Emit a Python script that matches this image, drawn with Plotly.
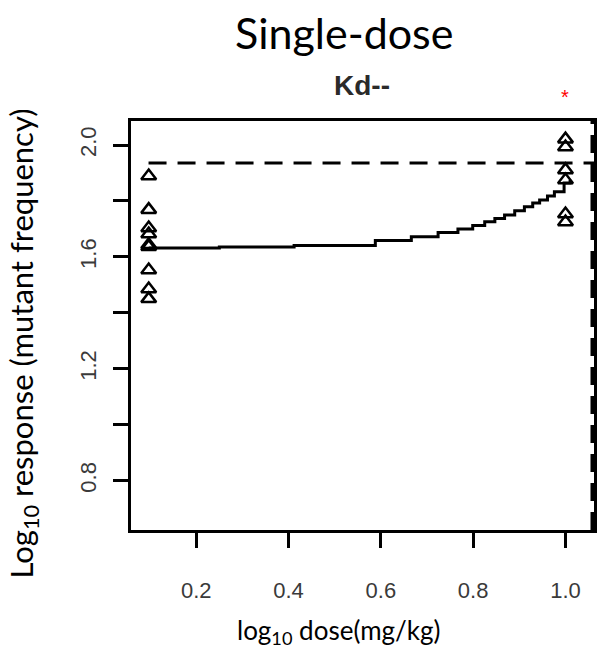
import plotly.graph_objects as go

# ---- data ----
low_dose = 0.097
high_dose = 1.0
low_resp = [1.889, 1.769, 1.703, 1.682, 1.643, 1.636, 1.553, 1.485, 1.450]
high_resp = [2.021, 1.993, 1.911, 1.875, 1.753, 1.725]

curve_x = [0.097, 0.25, 0.412, 0.588, 0.666, 0.724, 0.767, 0.799, 0.825, 0.847,
           0.868, 0.890, 0.911, 0.929, 0.944, 0.961, 0.976, 0.997, 1.010]
curve_y = [1.632, 1.635, 1.641, 1.659, 1.672, 1.687, 1.700, 1.712, 1.726, 1.737,
           1.750, 1.765, 1.779, 1.793, 1.803, 1.818, 1.833, 1.864, 1.875]

upper_asym = 1.936
kd_dose = 1.058

x_ticks = [0.2, 0.4, 0.6, 0.8, 1.0]
x_ticktext = ["0.2", "0.4", "0.6", "0.8", "1.0"]
y_ticks = [0.8, 1.0, 1.2, 1.4, 1.6, 1.8, 2.0]
y_ticktext = ["0.8", "", "1.2", "", "1.6", "", "2.0"]

x_range = [0.0586, 1.0618]
y_range = [0.6238, 2.0858]

fig = go.Figure()

fig.add_trace(go.Scatter(
    x=[x_range[0] + 0.038, x_range[1]], y=[upper_asym, upper_asym], mode="lines",
    line=dict(color="black", width=3, dash="18px,11px"), hoverinfo="skip"))
fig.add_trace(go.Scatter(
    x=[kd_dose, kd_dose], y=y_range, mode="lines",
    line=dict(color="black", width=3.5, dash="18px,11px"), hoverinfo="skip"))
fig.add_trace(go.Scatter(
    x=curve_x, y=curve_y, mode="lines",
    line=dict(color="black", width=3, shape="hv"), hoverinfo="skip"))
fig.add_trace(go.Scatter(
    x=[low_dose] * len(low_resp) + [high_dose] * len(high_resp),
    y=low_resp + high_resp, mode="markers",
    marker=dict(symbol="triangle-up-open", size=13, color="black",
                line=dict(color="black", width=2.5))))

fig.update_layout(
    width=600, height=649,
    margin=dict(l=131, r=3, t=121, b=119),
    paper_bgcolor="white", plot_bgcolor="white",
    showlegend=False,
    xaxis=dict(range=x_range, tickvals=x_ticks, ticktext=x_ticktext,
               ticks="outside", ticklen=15, tickwidth=3, tickcolor="black",
               showline=True, linewidth=3, linecolor="black", mirror=True,
               showgrid=False, zeroline=False, ticklabelstandoff=24,
               tickfont=dict(family="Liberation Sans", size=22, color="#3a3a3a")),
    yaxis=dict(range=y_range, tickvals=y_ticks, ticktext=y_ticktext,
               ticks="outside", ticklen=15, tickwidth=3, tickcolor="black",
               showline=True, linewidth=3, linecolor="black", mirror=True,
               showgrid=False, zeroline=False, tickangle=-90, ticklabelstandoff=8,
               tickfont=dict(family="Liberation Sans", size=22, color="#3a3a3a")),
    annotations=[
        dict(text="Single-dose", xref="paper", yref="paper", x=0.459, y=1.2176,
             xanchor="center", yanchor="middle", showarrow=False,
             font=dict(family="Lato", size=43, color="black")),
        dict(text="<b>Kd--</b>", xref="paper", yref="paper", x=0.498, y=1.088,
             xanchor="center", yanchor="middle", showarrow=False,
             font=dict(family="Liberation Sans", size=28, color="#2a2a2a")),
        dict(text="*", xref="x", yref="paper", x=high_dose, y=1.0587,
             xanchor="center", yanchor="middle", showarrow=False,
             font=dict(family="Liberation Sans", size=20, color="red")),
        dict(text="Log<sub>10</sub> response (mutant frequency)", xref="paper", yref="paper",
             x=-0.232, y=0.455, xanchor="center", yanchor="middle", textangle=-90,
             showarrow=False, font=dict(family="Lato", size=31, color="black")),
        dict(text="log<sub>10</sub> dose(mg/kg)", xref="paper", yref="paper",
             x=0.4485, y=-0.249, xanchor="center", yanchor="middle",
             showarrow=False, font=dict(family="Lato", size=26, color="black")),
    ],
)

fig.write_html("out.html")
